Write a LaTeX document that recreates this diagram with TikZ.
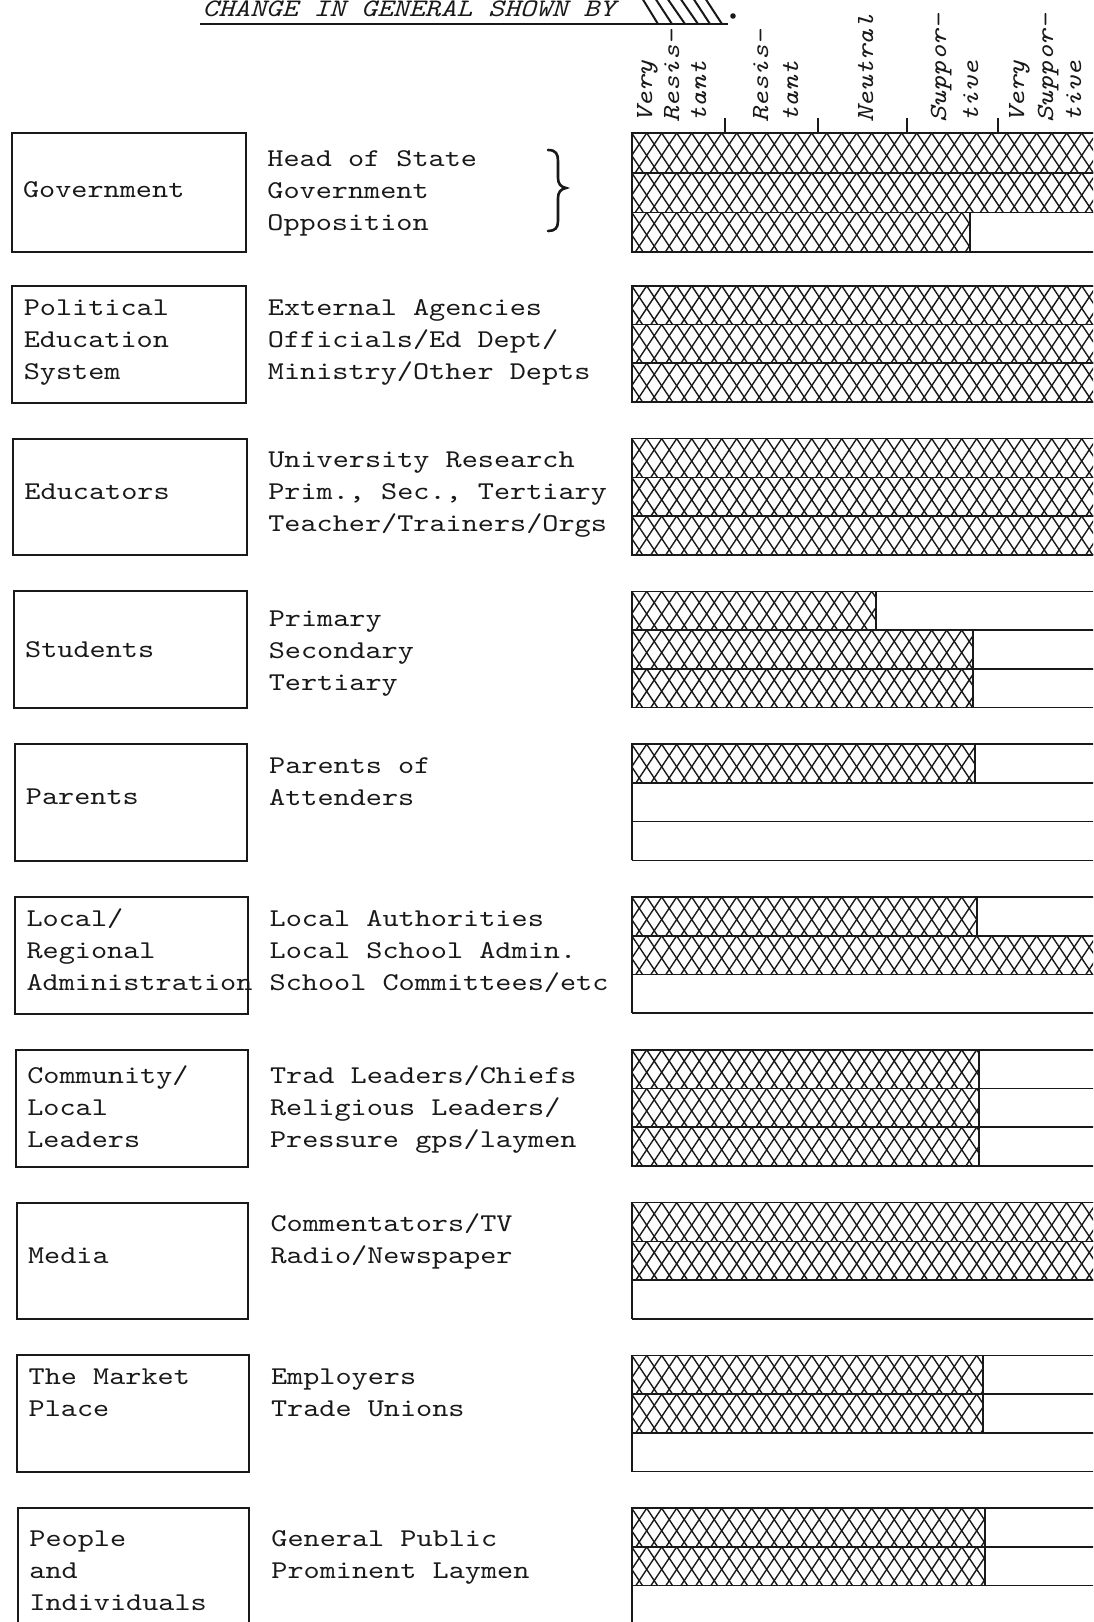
\documentclass[tikz,border=0pt]{standalone}
\usepackage{fontspec}
\newfontfamily\twfont[FakeStretch=1.2]{lmmono10-regular.otf}
\newfontfamily\twitfont[FakeStretch=1.2]{lmmono10-italic.otf}
\definecolor{ink}{gray}{0.1}

\tikzset{
  txt/.style={font=\twfont\fontsize{12.8}{16}\selectfont, inner sep=0pt, text=ink, anchor=base west},
  hdr/.style={font=\twitfont\fontsize{12.6}{16}\selectfont, inner sep=0pt, text=ink, anchor=base west},
  collabel/.style={font=\twitfont\fontsize{12.3}{16}\selectfont, inner sep=0pt, text=ink, rotate=90, anchor=base west},
  grpbox/.style={draw=ink, line width=1pt},
  barline/.style={draw=ink, line width=0.8pt},
  hatchline/.style={draw=ink, line width=0.7pt},
  bracepath/.style={draw=ink, line width=1.3pt, line cap=round},
}

% text lines set 32px apart, named <name>-1, <name>-2, ...
\newcommand\tlines[4]{%
  \foreach \ln [count=\n] in {#4}{%
    \node[txt] (#1-\n) at (#2,{#3+(\n-1)*32}) {\ln};}}

% one cross-hatched bar segment: top y, bottom y, right end x
\newcommand\hrow[3]{%
  \begin{scope}
    \clip (631.7,#1) rectangle (#3,#2);
    \foreach \k in {-3,...,34}{%
      \draw[hatchline] ({631.7+\k*15},#1) -- ++(30,45);
      \draw[hatchline] ({631.7+\k*15},#1) -- ++(-30,45);}
  \end{scope}
  \draw[barline] (631.7,#1) rectangle (#3,#2);}

% three-row bar: top, row height, hatch ends of rows 1..3 (0 = empty row)
\newcommand\bargroup[5]{%
  \pgfmathsetmacro\gRa{#1+#2}%
  \pgfmathsetmacro\gRb{#1+2*#2}%
  \pgfmathsetmacro\gRc{#1+3*#2}%
  \draw[barline] (631.7,#1) -- (631.7,\gRc);
  \foreach \yy in {#1,\gRa,\gRb,\gRc}{\draw[barline] (631.7,\yy) -- (1100,\yy);}
  \ifdim #3pt>1pt \hrow{#1}{\gRa}{#3}\fi
  \ifdim #4pt>1pt \hrow{\gRa}{\gRb}{#4}\fi
  \ifdim #5pt>1pt \hrow{\gRb}{\gRc}{#5}\fi}

\begin{document}
\begin{tikzpicture}[x=0.5pt, y=-0.5pt]
\useasboundingbox (0,0) rectangle (1093,1622);
\clip (0,0) rectangle (1093,1622);
\fill[white] (0,0) rectangle (1093,1622);

% heading with hatch sample
\node[hdr] (title) at (202,17) {CHANGE IN GENERAL SHOWN BY};
\coordinate (ul-a) at (200,24);
\coordinate (ul-b) at (728,24);
\draw[ink, line width=1pt] (ul-a) -- (ul-b);
\foreach \sx/\ex in {642/658, 655/672, 667/685, 680/698, 693/710, 705/722}{%
  \draw[ink, line width=1pt] (\sx,-2) -- (\ex,24);}
\fill[ink] (733,16) circle[radius=1.4pt];

% scale headings
\node[collabel] (vr-1) at (652,123) {Very};
\node[collabel] (vr-2) at (679,123) {Resis-};
\node[collabel] (vr-3) at (706,123) {tant};
\node[collabel] (rs-1) at (768,123) {Resis-};
\node[collabel] (rs-2) at (798,123) {tant};
\node[collabel] (nt-1) at (873,123) {Neutral};
\node[collabel] (sp-1) at (946,123) {Suppor-};
\node[collabel] (sp-2) at (978,123) {tive};
\node[collabel] (vs-1) at (1024,123) {Very};
\node[collabel] (vs-2) at (1053,123) {Suppor-};
\node[collabel] (vs-3) at (1081,123) {tive};
\foreach \tx [count=\i] in {725,818,907,998}{%
  \coordinate (tick-\i) at (\tx,118);
  \draw[barline] (tick-\i) -- (\tx,133);}

% bars
\bargroup{133}{39.7}{1100}{1100}{970}
\bargroup{285.8}{38.7}{1100}{1100}{1100}
\bargroup{438.6}{38.7}{1100}{1100}{1100}
\bargroup{591.4}{38.7}{876}{973}{973}
\bargroup{744.2}{38.7}{975}{0}{0}
\bargroup{897}{38.7}{977}{1100}{0}
\bargroup{1049.8}{38.7}{979}{979}{979}
\bargroup{1202.6}{38.7}{1100}{1100}{0}
\bargroup{1355.4}{38.7}{983}{983}{0}
\bargroup{1508.2}{38.7}{985}{985}{0}

% group boxes
\draw[grpbox] (11.7,133) rectangle (246,252);
\draw[grpbox] (12.4,285.8) rectangle (246.3,402.6);
\draw[grpbox] (13.1,438.6) rectangle (246.7,555.4);
\draw[grpbox] (13.8,591.4) rectangle (247,708.2);
\draw[grpbox] (14.5,744.2) rectangle (247.3,861);
\draw[grpbox] (15.2,897) rectangle (247.7,1013.8);
\draw[grpbox] (15.9,1049.8) rectangle (248,1166.6);
\draw[grpbox] (16.6,1202.6) rectangle (248.3,1319.4);
\draw[grpbox] (17.3,1355.4) rectangle (248.6,1472.2);
\draw[grpbox] (18,1508.2) rectangle (249,1630);

% group names
\tlines{gov}{22.7}{197}{Government}
\tlines{pol}{23.4}{315}{Political, Education, System}
\tlines{edu}{24.1}{499}{Educators}
\tlines{stu}{24.8}{657}{Students}
\tlines{par}{25.5}{804}{Parents}
\tlines{loc}{26.2}{926}{Local/, Regional, Administration}
\tlines{com}{26.9}{1083}{Community/, Local, Leaders}
\tlines{med}{27.6}{1263}{Media}
\tlines{mkt}{28.3}{1384}{The Market, Place}
\tlines{ppl}{29}{1546}{People, and, Individuals}

% members of each group
\tlines{gov-m}{267}{166}{Head of State, Government, Opposition}
\tlines{pol-m}{267.5}{315}{External Agencies, Officials/Ed Dept/, Ministry/Other Depts}
\tlines{edu-m}{267.9}{467}{University Research, {Prim., Sec., Tertiary}, Teacher/Trainers/Orgs}
\tlines{stu-m}{268.4}{626}{Primary, Secondary, Tertiary}
\tlines{par-m}{268.8}{773}{Parents of, Attenders}
\tlines{loc-m}{269.3}{926}{Local Authorities, Local School Admin., School Committees/etc}
\tlines{com-m}{269.7}{1083}{Trad Leaders/Chiefs, Religious Leaders/, Pressure gps/laymen}
\tlines{med-m}{270.2}{1231}{Commentators/TV, Radio/Newspaper}
\tlines{mkt-m}{270.6}{1384}{Employers, Trade Unions}
\tlines{ppl-m}{271}{1546}{General Public, Prominent Laymen}

% brace grouping the government members
\draw[bracepath] (548,150) .. controls (556,150) and (558,154) .. (558,161)
  -- (558,178) .. controls (558,184) and (561,187) .. (566,188)
  .. controls (561,189) and (558,192) .. (558,198)
  -- (558,221) .. controls (558,228) and (555,231) .. (548,231);
\end{tikzpicture}
\end{document}
